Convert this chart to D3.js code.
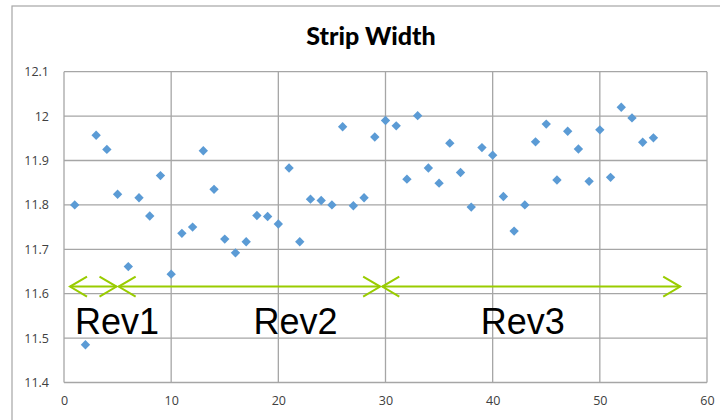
<!DOCTYPE html>
<html>
<head>
<meta charset="utf-8">
<script src="https://cdn.jsdelivr.net/npm/d3@7"></script>
<style>
  html, body { margin: 0; padding: 0; background: #fff; }
  svg { display: block; }
</style>
</head>
<body>
<svg id="chart" width="720" height="420"></svg>
<script>
// Sample number (x) and measured strip width (y)
const sampleNo = d3.range(1, 56);
const widths = [
  11.80, 11.485, 11.957, 11.925, 11.824, 11.661, 11.816, 11.775, 11.866, 11.644,
  11.736, 11.750, 11.922, 11.835, 11.723, 11.692, 11.717, 11.776, 11.774, 11.757,
  11.883, 11.717, 11.813, 11.810, 11.800, 11.976, 11.798, 11.816, 11.953, 11.990,
  11.978, 11.858, 12.001, 11.883, 11.849, 11.939, 11.873, 11.795, 11.929, 11.912,
  11.819, 11.741, 11.800, 11.942, 11.982, 11.856, 11.966, 11.926, 11.853, 11.969,
  11.862, 12.020, 11.996, 11.941, 11.951
];

// Axis ticks
const xTicks = [0, 10, 20, 30, 40, 50, 60];
const yTicks = [11.4, 11.5, 11.6, 11.7, 11.8, 11.9, 12, 12.1];

// Revision ranges shown as double-headed arrows
const revNames = ["Rev1", "Rev2", "Rev3"];
const revStart = [0.56, 5.1, 29.7];
const revEnd = [4.9, 29.5, 57.5];
const revArrowY = 11.616;
const revLabelX = [4.95, 21.6, 42.8];
const revLabelY = 11.515;

const svg = d3.select("#chart");
const plotLeft = 64, plotRight = 707, plotTop = 71.7, plotBottom = 382.5;

const x = d3.scaleLinear().domain([0, 60]).range([plotLeft, plotRight]);
const y = d3.scaleLinear().domain([11.4, 12.1]).range([plotBottom, plotTop]);

// Outer chart frame
svg.append("rect")
  .attr("x", 12).attr("y", 6).attr("width", 730).attr("height", 430)
  .attr("fill", "none").attr("stroke", "#a6a6a6").attr("stroke-width", 1.2);

// Title
svg.append("text")
  .attr("x", 371).attr("y", 45)
  .attr("text-anchor", "middle")
  .attr("font-family", "Lato, 'Open Sans', sans-serif")
  .attr("font-weight", 900)
  .attr("font-size", 25)
  .attr("fill", "#000")
  .text("Strip Width");

const gridColor = "#a6a6a6";

// Grid lines
svg.append("g").selectAll("line").data(yTicks).join("line")
  .attr("x1", plotLeft).attr("x2", plotRight)
  .attr("y1", d => y(d)).attr("y2", d => y(d))
  .attr("stroke", gridColor).attr("stroke-width", 1.3);
svg.append("g").selectAll("line").data(xTicks).join("line")
  .attr("y1", plotTop).attr("y2", plotBottom)
  .attr("x1", d => x(d)).attr("x2", d => x(d))
  .attr("stroke", gridColor).attr("stroke-width", 1.3);

// Axes (labels only; lines come from the grid)
const yAxis = d3.axisLeft(y).tickValues(yTicks).tickSize(0).tickPadding(15)
  .tickFormat(d => String(+d.toFixed(1)));
const gy = svg.append("g").attr("transform", `translate(${plotLeft},0)`).call(yAxis);
gy.select(".domain").remove();
gy.selectAll("text")
  .attr("font-family", "'Open Sans', 'Noto Sans', sans-serif")
  .attr("font-size", 12.5).attr("fill", "#404040");

const xAxis = d3.axisBottom(x).tickValues(xTicks).tickSize(0).tickPadding(14);
const gx = svg.append("g").attr("transform", `translate(0,${plotBottom})`).call(xAxis);
gx.select(".domain").remove();
gx.selectAll("text")
  .attr("font-family", "'Open Sans', 'Noto Sans', sans-serif")
  .attr("font-size", 12.5).attr("fill", "#404040");

// Data markers (diamonds)
const diamond = d3.symbol().type(d3.symbolDiamond2).size(56);
svg.append("g").selectAll("path").data(sampleNo).join("path")
  .attr("transform", (d, i) => `translate(${x(d)},${y(widths[i])})`)
  .attr("d", diamond)
  .attr("fill", "#5b9bd5");

// Revision arrows
const arrowColor = "#99cc00";
const headLen = 17, headHalf = 10;
const ga = svg.append("g").attr("stroke", arrowColor).attr("stroke-width", 2).attr("fill", "none");
revNames.forEach((name, i) => {
  const x0 = x(revStart[i]), x1 = x(revEnd[i]), yy = y(revArrowY);
  ga.append("line").attr("x1", x0).attr("x2", x1).attr("y1", yy).attr("y2", yy);
  ga.append("path").attr("d", `M${x0 + headLen},${yy - headHalf}L${x0},${yy}L${x0 + headLen},${yy + headHalf}`);
  ga.append("path").attr("d", `M${x1 - headLen},${yy - headHalf}L${x1},${yy}L${x1 - headLen},${yy + headHalf}`);
});

// Revision labels
svg.append("g").selectAll("text").data(revNames).join("text")
  .attr("x", (d, i) => x(revLabelX[i]))
  .attr("y", y(revLabelY) + 3)
  .attr("text-anchor", "middle")
  .attr("font-family", "'Liberation Sans', Arial, sans-serif")
  .attr("font-size", 36)
  .attr("fill", "#000")
  .text(d => d);
</script>
</body>
</html>
